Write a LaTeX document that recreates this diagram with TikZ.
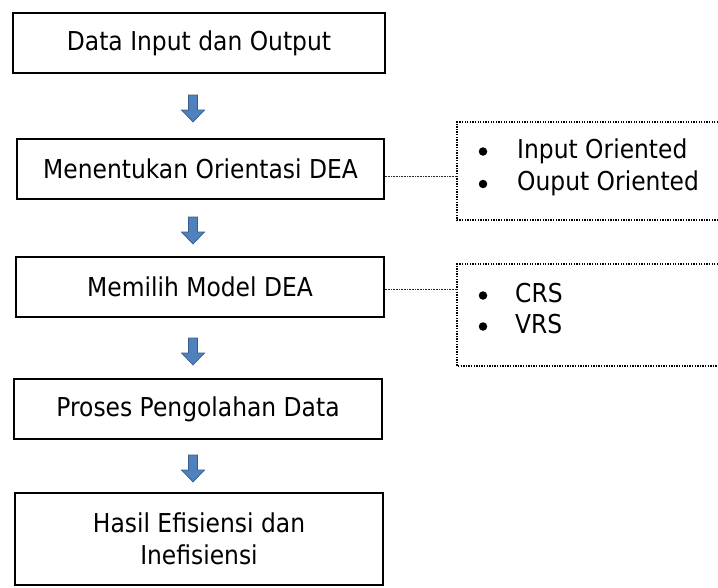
\documentclass[tikz,border=0pt]{standalone}
\usepackage{fontspec}
\setmainfont{DejaVu Sans}[FakeStretch=0.9]
\definecolor{arrowblue}{RGB}{79,129,189}
\definecolor{arrowedge}{RGB}{56,93,140}
\tikzset{
  box/.style={draw=black, line width=1.3pt, inner sep=0pt, minimum height=60pt,
    font=\fontsize{26}{31.5}\selectfont, align=center},
  optbox/.style={draw=black, line width=1.5pt, dash pattern=on 1.3pt off 1.3pt},
  link/.style={draw=black!85, line width=0.8pt, dash pattern=on 0.8pt off 0.8pt},
  blk/.style={fill=arrowblue, draw=arrowedge, line width=0.7pt, line join=miter},
  itm/.style={anchor=base west, inner sep=0pt, font=\fontsize{26}{31.5}\selectfont},
  bul/.style={circle, fill=black, inner sep=0pt, minimum size=8.5pt}
}
\begin{document}
\begin{tikzpicture}[x=1pt,y=-1pt]
\useasboundingbox (0,0) rectangle (718,587);

% main boxes
\node[box, minimum width=372pt] (b1) at (199,43) {Data Input dan Output};
\node[box, minimum width=367pt] (b2) at (200.5,169) {Menentukan Orientasi DEA};
\node[box, minimum width=368pt] (b3) at (200,287) {Memilih Model DEA};
\node[box, minimum width=368pt] (b4) at (198,409) {Proses Pengolahan Data};
\node[box, minimum width=368pt, minimum height=92pt] (b5) at (199,539) {Hasil Efisiensi dan\\Inefisiensi};

% block arrows
\foreach \t in {95,217,338,455}{
  \draw[blk] (188.5,\t) -- (197.5,\t) -- (197.5,\t+15) -- (204.5,\t+15)
    -- (193,\t+27) -- (181.5,\t+15) -- (188.5,\t+15) -- cycle;
}

% option boxes (open at the right edge)
\draw[optbox] (718,122) -- (457,122) -- (457,220) -- (718,220);
\draw[optbox] (718,264) -- (457,264) -- (457,366) -- (718,366);

\coordinate (c1) at (457,176);
\coordinate (c2) at (457,289);
\draw[link] (b2.east |- c1) -- (c1);
\draw[link] (b3.east |- c2) -- (c2);

% bullet items
\node[bul] (d1) at (483,151.5) {};
\node[itm] (t1) at (517,158) {Input Oriented};
\node[bul] (d2) at (483,184) {};
\node[itm] (t2) at (517,190.5) {Ouput Oriented};
\node[bul] (d3) at (483,295.5) {};
\node[itm] (t3) at (515,302) {CRS};
\node[bul] (d4) at (483,326.5) {};
\node[itm] (t4) at (515,333) {VRS};
\end{tikzpicture}
\end{document}
